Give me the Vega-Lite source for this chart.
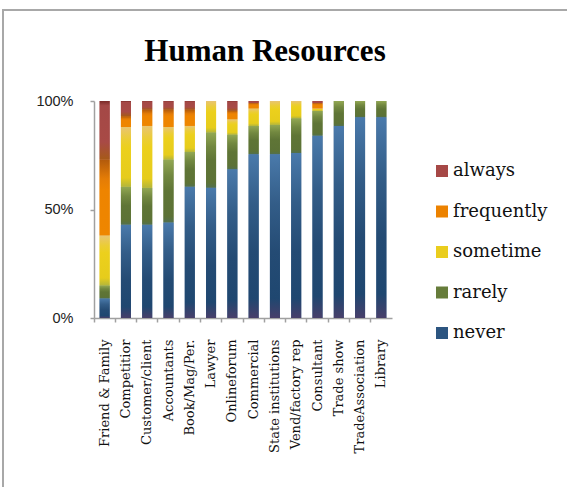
{
  "$schema": "https://vega.github.io/schema/vega-lite/v6.json",
  "autosize": {"type": "none"},
  "padding": {"left": 3, "top": 10, "right": 0, "bottom": 0},
  "width": 566,
  "height": 480,
  "background": "white",
  "config": {
    "view": {"stroke": "#a8a8a8", "strokeWidth": 2, "fill": "white"}
  },
  "title": {
    "text": "Human Resources",
    "font": "Liberation Serif",
    "fontSize": 31,
    "fontWeight": "bold",
    "color": "#000000",
    "anchor": "middle",
    "frame": "group",
    "orient": "top",
    "baseline": "alphabetic",
    "offset": 0,
    "dx": -21,
    "dy": 82
  },
  "data": {
    "values": [
      {"source": "Friend & Family", "level": "never", "score": 1, "share": 9},
      {"source": "Friend & Family", "level": "rarely", "score": 2, "share": 6},
      {"source": "Friend & Family", "level": "sometime", "score": 3, "share": 23},
      {"source": "Friend & Family", "level": "frequently", "score": 4, "share": 35},
      {"source": "Friend & Family", "level": "always", "score": 5, "share": 27},

      {"source": "Competitior", "level": "never", "score": 1, "share": 43},
      {"source": "Competitior", "level": "rarely", "score": 2, "share": 17.5},
      {"source": "Competitior", "level": "sometime", "score": 3, "share": 27.5},
      {"source": "Competitior", "level": "frequently", "score": 4, "share": 5},
      {"source": "Competitior", "level": "always", "score": 5, "share": 7},

      {"source": "Customer/client", "level": "never", "score": 1, "share": 43},
      {"source": "Customer/client", "level": "rarely", "score": 2, "share": 17},
      {"source": "Customer/client", "level": "sometime", "score": 3, "share": 28.5},
      {"source": "Customer/client", "level": "frequently", "score": 4, "share": 7.5},
      {"source": "Customer/client", "level": "always", "score": 5, "share": 4},

      {"source": "Accountants", "level": "never", "score": 1, "share": 44},
      {"source": "Accountants", "level": "rarely", "score": 2, "share": 29},
      {"source": "Accountants", "level": "sometime", "score": 3, "share": 15},
      {"source": "Accountants", "level": "frequently", "score": 4, "share": 8},
      {"source": "Accountants", "level": "always", "score": 5, "share": 4},

      {"source": "Book/Mag/Per.", "level": "never", "score": 1, "share": 60.5},
      {"source": "Book/Mag/Per.", "level": "rarely", "score": 2, "share": 16},
      {"source": "Book/Mag/Per.", "level": "sometime", "score": 3, "share": 12},
      {"source": "Book/Mag/Per.", "level": "frequently", "score": 4, "share": 7.5},
      {"source": "Book/Mag/Per.", "level": "always", "score": 5, "share": 4},

      {"source": "Lawyer", "level": "never", "score": 1, "share": 60},
      {"source": "Lawyer", "level": "rarely", "score": 2, "share": 25.5},
      {"source": "Lawyer", "level": "sometime", "score": 3, "share": 14.5},

      {"source": "Onlineforum", "level": "never", "score": 1, "share": 68.5},
      {"source": "Onlineforum", "level": "rarely", "score": 2, "share": 16},
      {"source": "Onlineforum", "level": "sometime", "score": 3, "share": 7},
      {"source": "Onlineforum", "level": "frequently", "score": 4, "share": 4},
      {"source": "Onlineforum", "level": "always", "score": 5, "share": 4.5},

      {"source": "Commercial", "level": "never", "score": 1, "share": 75.5},
      {"source": "Commercial", "level": "rarely", "score": 2, "share": 13},
      {"source": "Commercial", "level": "sometime", "score": 3, "share": 8},
      {"source": "Commercial", "level": "frequently", "score": 4, "share": 2.5},
      {"source": "Commercial", "level": "always", "score": 5, "share": 1},

      {"source": "State institutions", "level": "never", "score": 1, "share": 75.5},
      {"source": "State institutions", "level": "rarely", "score": 2, "share": 13.5},
      {"source": "State institutions", "level": "sometime", "score": 3, "share": 11},

      {"source": "Vend/factory rep", "level": "never", "score": 1, "share": 76},
      {"source": "Vend/factory rep", "level": "rarely", "score": 2, "share": 16},
      {"source": "Vend/factory rep", "level": "sometime", "score": 3, "share": 8},

      {"source": "Consultant", "level": "never", "score": 1, "share": 84},
      {"source": "Consultant", "level": "rarely", "score": 2, "share": 11.5},
      {"source": "Consultant", "level": "sometime", "score": 3, "share": 1},
      {"source": "Consultant", "level": "frequently", "score": 4, "share": 2.5},
      {"source": "Consultant", "level": "always", "score": 5, "share": 1},

      {"source": "Trade show", "level": "never", "score": 1, "share": 88.5},
      {"source": "Trade show", "level": "rarely", "score": 2, "share": 11.5},

      {"source": "TradeAssociation", "level": "never", "score": 1, "share": 92.5},
      {"source": "TradeAssociation", "level": "rarely", "score": 2, "share": 7.5},

      {"source": "Library", "level": "never", "score": 1, "share": 92.5},
      {"source": "Library", "level": "rarely", "score": 2, "share": 7.5}
    ]
  },
  "transform": [
    {
      "stack": "share",
      "groupby": ["source"],
      "sort": [{"field": "score", "order": "ascending"}],
      "offset": "normalize",
      "as": ["lo", "hi"]
    }
  ],
  "encoding": {
    "x": {
      "field": "source",
      "type": "nominal",
      "sort": null,
      "scale": {"range": [91, 389], "paddingInner": 0, "paddingOuter": 0},
      "axis": {
        "title": null,
        "offset": -172,
        "bandPosition": 0,
        "domainColor": "#a0a0a0",
        "domainWidth": 1.5,
        "tickColor": "#a0a0a0",
        "tickWidth": 1.5,
        "tickSize": 4,
        "labelAngle": -90,
        "labelPadding": 17,
        "labelFont": "DejaVu Serif",
        "labelFontSize": 13,
        "labelColor": "#111111",
        "labelBound": false,
        "labelOverlap": false
      }
    },
    "y": {
      "field": "hi",
      "type": "quantitative",
      "scale": {"domain": [0, 1], "range": [308, 91]},
      "axis": {
        "title": null,
        "offset": -91,
        "values": [0, 0.5, 1],
        "format": ".0%",
        "grid": false,
        "domainColor": "#a0a0a0",
        "domainWidth": 1.5,
        "tickColor": "#a0a0a0",
        "tickWidth": 1.5,
        "tickSize": 4,
        "labelPadding": 17,
        "labelFont": "Liberation Sans",
        "labelFontSize": 14.5,
        "labelColor": "#222222"
      }
    },
    "y2": {"field": "lo"}
  },
  "layer": [
    {
      "mark": {"type": "bar", "width": {"band": 0.47}},
      "encoding": {
        "color": {
          "field": "level",
          "type": "nominal",
          "scale": {
            "domain": ["always", "frequently", "sometime", "rarely", "never"],
            "range": ["#a64846", "#ec8200", "#eacd1e", "#667c3a", "#2c5580"]
          },
          "legend": {
            "title": null,
            "orient": "none",
            "legendX": 430,
            "legendY": 152,
            "symbolType": "square",
            "symbolSize": 144,
            "symbolStrokeWidth": 0,
            "rowPadding": 22.5,
            "labelFont": "DejaVu Serif",
            "labelFontSize": 18,
            "labelColor": "#111111",
            "labelOffset": 2,
            "labelLimit": 200
          }
        }
      }
    },
    {
      "transform": [{"filter": "datum.level === 'always'"}],
      "mark": {"type": "bar", "width": {"band": 0.47}, "color": {"gradient": "linear", "x1": 0, "y1": 0, "x2": 0, "y2": 1, "stops": [
        {"offset": 0, "color": "#7a2a28"}, {"offset": 0.08, "color": "#a44846"},
        {"offset": 0.7, "color": "#a84a46"}, {"offset": 1, "color": "#a65a18"}]}}
    },
    {
      "transform": [{"filter": "datum.level === 'frequently'"}],
      "mark": {"type": "bar", "width": {"band": 0.47}, "color": {"gradient": "linear", "x1": 0, "y1": 0, "x2": 0, "y2": 1, "stops": [
        {"offset": 0, "color": "#b25a0c"}, {"offset": 0.25, "color": "#e47c06"},
        {"offset": 0.4, "color": "#ee8400"}, {"offset": 1, "color": "#ee8600"}]}}
    },
    {
      "transform": [{"filter": "datum.level === 'sometime'"}],
      "mark": {"type": "bar", "width": {"band": 0.47}, "color": {"gradient": "linear", "x1": 0, "y1": 0, "x2": 0, "y2": 1, "stops": [
        {"offset": 0, "color": "#e9c472"}, {"offset": 0.2, "color": "#ebcd36"},
        {"offset": 0.35, "color": "#ecd01c"}, {"offset": 0.85, "color": "#e6cc1c"},
        {"offset": 1, "color": "#b4b63a"}]}}
    },
    {
      "transform": [{"filter": "datum.level === 'rarely'"}],
      "mark": {"type": "bar", "width": {"band": 0.47}, "color": {"gradient": "linear", "x1": 0, "y1": 0, "x2": 0, "y2": 1, "stops": [
        {"offset": 0, "color": "#93a852"}, {"offset": 0.25, "color": "#728840"},
        {"offset": 0.5, "color": "#5f7536"}, {"offset": 0.9, "color": "#5c7236"},
        {"offset": 1, "color": "#52704e"}]}}
    },
    {
      "transform": [{"filter": "datum.level === 'never'"}],
      "mark": {"type": "bar", "width": {"band": 0.47}, "color": {"gradient": "linear", "x1": 0, "y1": 0, "x2": 0, "y2": 1, "stops": [
        {"offset": 0, "color": "#4a7aab"}, {"offset": 0.3, "color": "#335d88"},
        {"offset": 0.6, "color": "#244b74"}, {"offset": 0.88, "color": "#1f4770"},
        {"offset": 1, "color": "#483f6a"}]}}
    }
  ]
}
